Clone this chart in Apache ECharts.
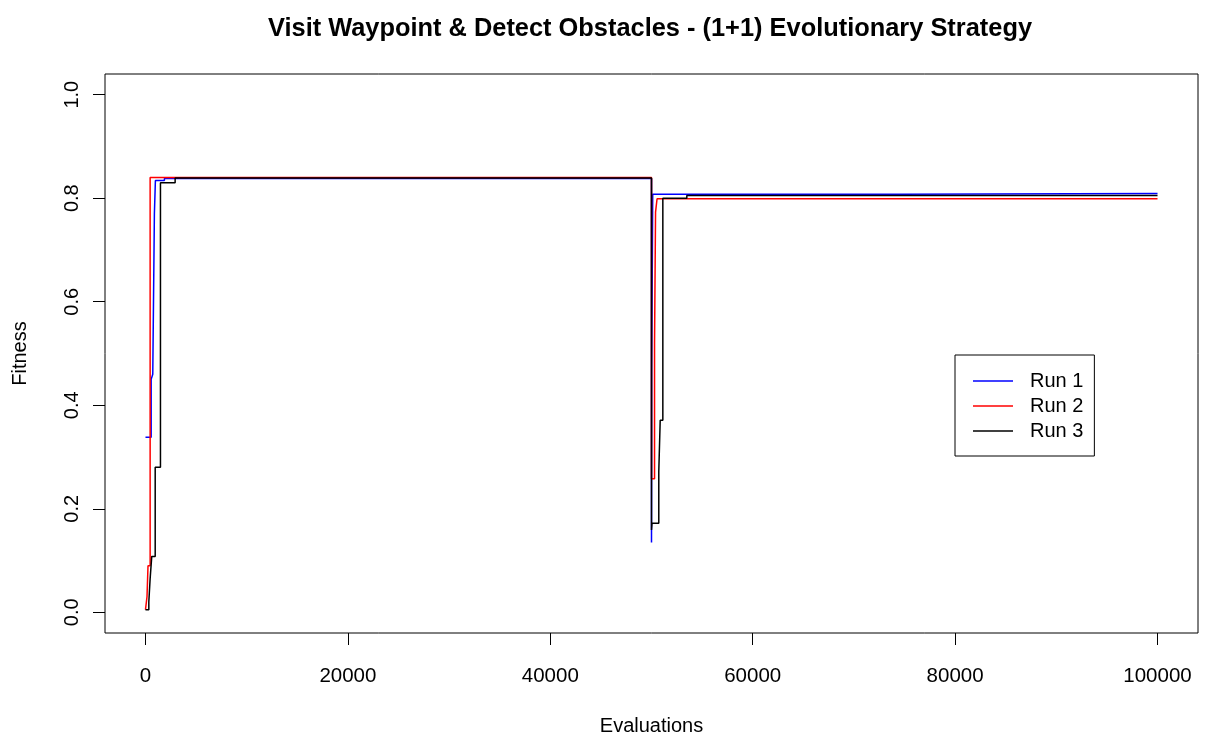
<!DOCTYPE html>
<html>
<head>
<meta charset="utf-8">
<title>Visit Waypoint & Detect Obstacles - (1+1) Evolutionary Strategy</title>
<script src="https://cdn.jsdelivr.net/npm/echarts@6/dist/echarts.min.js"></script>
<style>
  html, body { margin: 0; padding: 0; background: #fff; }
  #chart { width: 1208px; height: 738px; }
</style>
</head>
<body>
<div id="chart"></div>
<script>
// Step points: each fitness value holds from its evaluation count until the next one.
const run1Evals   = [0, 560, 720, 880, 980, 1870, 50000, 50020, 50120, 74500, 100000];
const run1Fitness = [0.338, 0.45, 0.46, 0.77, 0.834, 0.838, 0.135, 0.47, 0.8075, 0.809, 0.809];

const run2Evals   = [0, 150, 250, 460, 50000, 50300, 50400, 50550, 100000];
const run2Fitness = [0.005, 0.03, 0.09, 0.840, 0.258, 0.52, 0.773, 0.799, 0.799];

const run3Evals   = [0, 330, 460, 620, 960, 1480, 2930, 50000, 50050, 50720, 50860, 51120, 53490, 100000];
const run3Fitness = [0.005, 0.02, 0.065, 0.108, 0.28, 0.83, 0.839, 0.159, 0.172, 0.272, 0.371, 0.8, 0.8055, 0.8055];

const runNames  = ['Run 1', 'Run 2', 'Run 3'];
const runColors = ['#0000ff', '#ff0000', '#000000'];

const xTicks = [0, 20000, 40000, 60000, 80000, 100000];
const yTicks = [0, 0.2, 0.4, 0.6, 0.8, 1.0];

const zip = (xs, ys) => xs.map((x, i) => [x, ys[i]]);
const runs = [zip(run1Evals, run1Fitness), zip(run2Evals, run2Fitness), zip(run3Evals, run3Fitness)];

const FONT = 'Liberation Sans, Arial, sans-serif';

const chart = echarts.init(document.getElementById('chart'), null, { renderer: 'canvas' });

chart.setOption({
  animation: false,
  backgroundColor: '#ffffff',
  title: {
    text: 'Visit Waypoint & Detect Obstacles - (1+1) Evolutionary Strategy',
    left: 645,
    top: 11,
    textAlign: 'center',
    textStyle: { fontFamily: FONT, fontSize: 25.4, fontWeight: 'bold', color: '#000' }
  },
  legend: {
    orient: 'vertical',
    left: 955,
    top: 355,
    padding: [16, 11, 15, 18],
    itemGap: 5,
    itemWidth: 40,
    itemHeight: 1.5,
    icon: 'rect',
    selectedMode: false,
    borderColor: '#000',
    borderWidth: 1,
    borderRadius: 0,
    data: runNames,
    textStyle: { fontFamily: FONT, fontSize: 20, lineHeight: 20, color: '#000', padding: [0, 0, 0, 12] }
  },
  grid: {
    left: 105, top: 74, right: 10, bottom: 105,
    outerBoundsMode: 'none',
    containLabel: false,
    show: true, borderColor: '#000', borderWidth: 1, backgroundColor: 'transparent'
  },
  xAxis: {
    type: 'value',
    min: -4000,
    max: 104000,
    name: 'Evaluations',
    nameLocation: 'middle',
    nameGap: 83,
    nameTextStyle: { fontFamily: FONT, fontSize: 20, color: '#000', verticalAlign: 'top' },
    splitLine: { show: false },
    axisLine: { show: false, onZero: false },
    axisTick: { show: true, inside: false, length: 12, customValues: xTicks, lineStyle: { color: '#000', width: 1 } },
    axisLabel: {
      customValues: xTicks, margin: 33,
      fontFamily: FONT, fontSize: 20.5, color: '#000',
      formatter: v => String(v)
    }
  },
  yAxis: {
    type: 'value',
    min: -0.04,
    max: 1.04,
    name: 'Fitness',
    nameLocation: 'middle',
    nameGap: 75,
    nameTextStyle: { fontFamily: FONT, fontSize: 20, color: '#000' },
    splitLine: { show: false },
    axisLine: { show: false, onZero: false },
    axisTick: { show: true, inside: false, length: 12, customValues: yTicks, lineStyle: { color: '#000', width: 1 } },
    axisLabel: {
      customValues: yTicks,
      rotate: 90,
      margin: 23,
      fontFamily: FONT, fontSize: 20, color: '#000',
      formatter: v => v.toFixed(1)
    }
  },
  series: runs.map((data, i) => ({
    name: runNames[i],
    type: 'line',
    step: 'end',
    data: data,
    showSymbol: false,
    symbol: 'none',
    color: runColors[i],
    lineStyle: { color: runColors[i], width: 1.5 },
    z: 2 + i
  }))
});
</script>
</body>
</html>
